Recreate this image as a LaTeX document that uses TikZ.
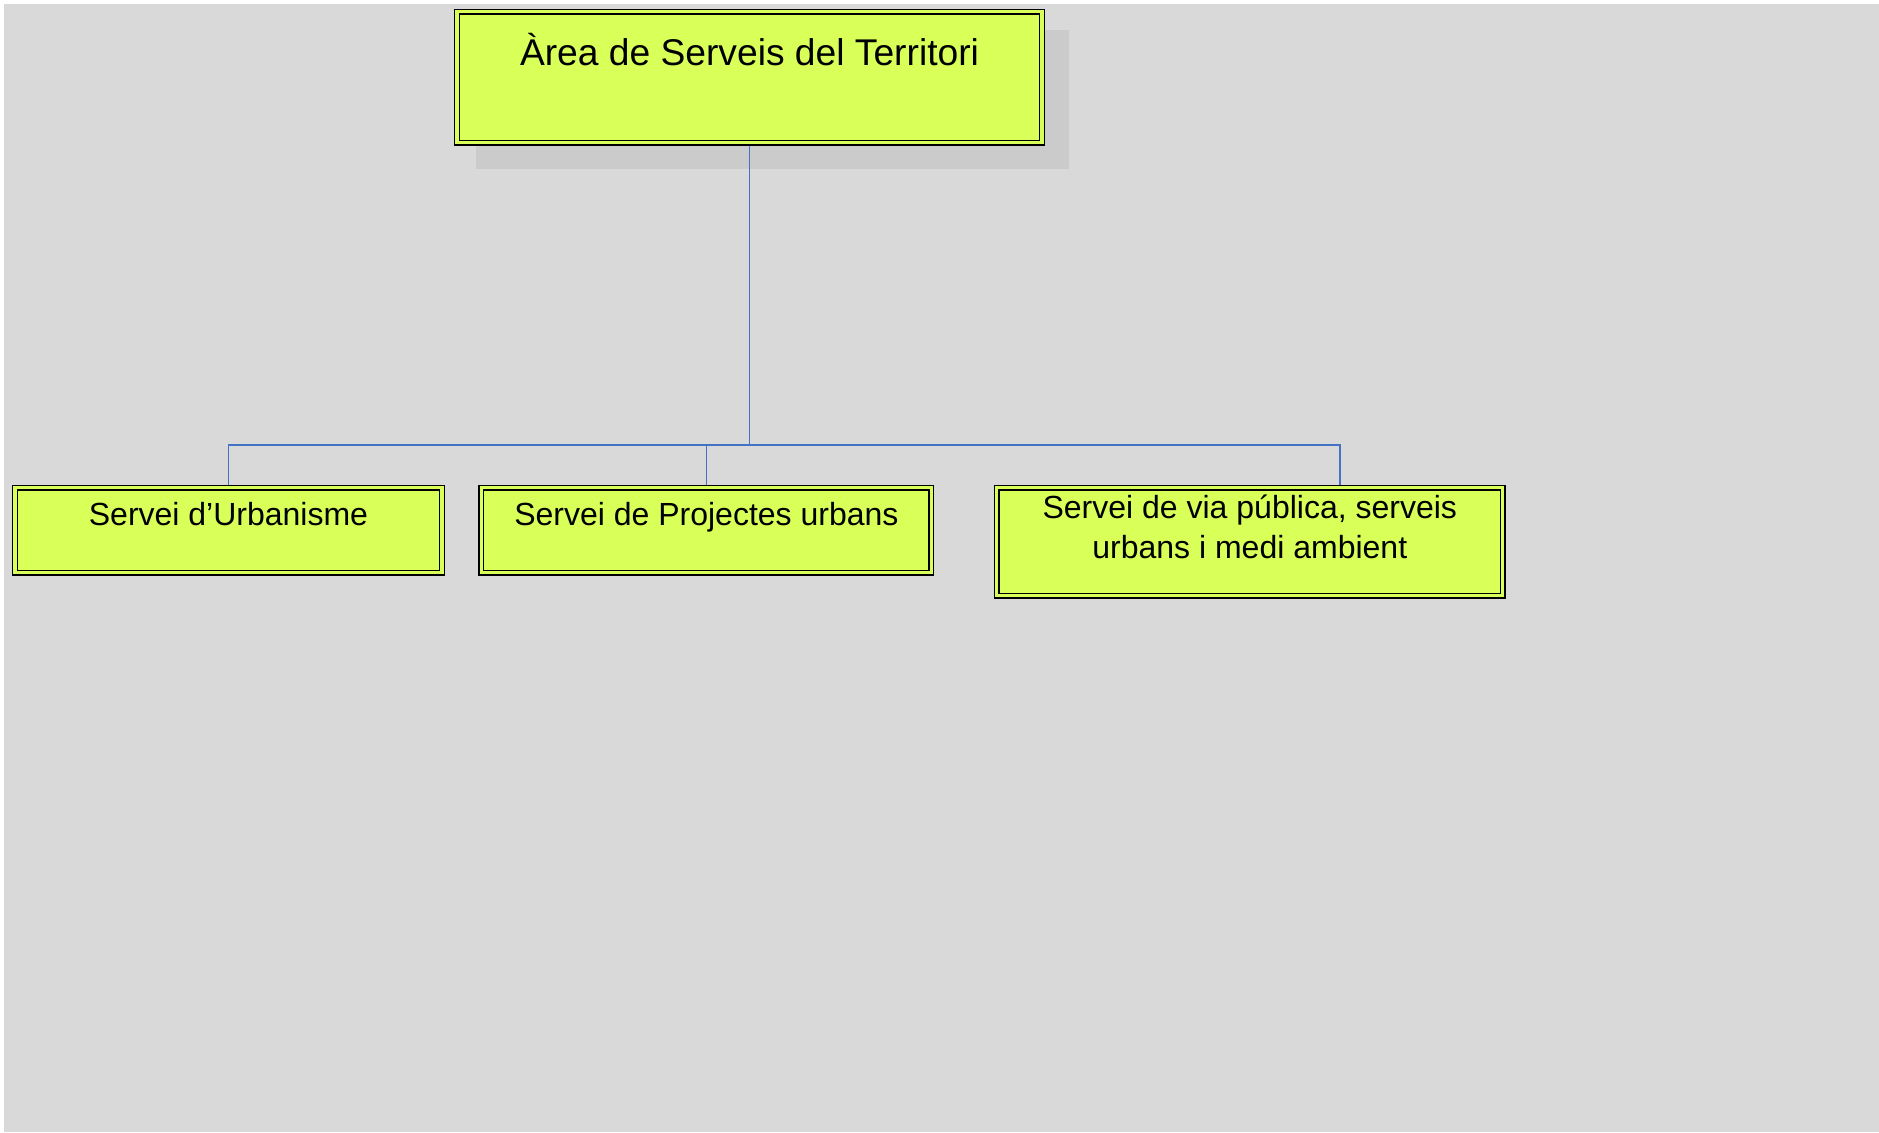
\documentclass[tikz,border=0pt]{standalone}
\usepackage{fontspec}
\setmainfont{Liberation Sans}
\usetikzlibrary{
  positioning,
  backgrounds
}
\definecolor{panelgray}{HTML}{D9D9D9}
\definecolor{shadowgray}{HTML}{CBCBCB}
\definecolor{unitfill}{HTML}{D9FF59}
\definecolor{linkblue}{HTML}{4472C4}
\tikzset{
  unit/.style={draw=black, line width=0.7pt, double=unitfill, double distance=1.6pt,
    fill=unitfill, inner sep=0pt, align=center, font=\fontsize{16}{20}\selectfont},
  link/.style={draw=linkblue, line width=0.9pt}
}

\begin{document}
\begin{tikzpicture}[x=0.5pt, y=-0.5pt]
    \useasboundingbox (0,0) rectangle (1879,1132);
    \node[unit, anchor=north, minimum width=292.5pt, text height=27pt, text depth=38.5pt,
      font=\fontsize{18.6}{22}\selectfont] (area) at (749.5,11) {Àrea de Serveis del Territori};
    \node[unit, anchor=north, minimum width=213.5pt, text height=19pt, text depth=23.5pt] (urb) at (228.5,487) {Servei d’Urbanisme};
    \node[unit, right=19pt of urb, minimum width=225pt, text height=19pt, text depth=23.5pt] (proj) {Servei de Projectes urbans};
    \node[unit, anchor=north west, minimum width=253pt, text height=35.5pt, text depth=18.5pt] (via) at ([xshift=32pt]proj.north east) {Servei de via pública, serveis\\urbans i medi ambient};
    \coordinate (hub) at (750,445);
    \coordinate (viadrop) at (1340,445);
    \begin{pgfonlayer}{background}
      \fill[panelgray] (4,4) rectangle (1879,1132);
      \fill[shadowgray] ([shift={(20,19)}]area.north west) rectangle ([shift={(26,26)}]area.south east);
      \draw[link] (area.south) -- (area.south |- hub);
      \draw[link] (urb.north) |- (viadrop) -- (viadrop |- via.north);
      \draw[link] (proj.north) -- (proj.north |- hub);
    \end{pgfonlayer}
\end{tikzpicture}
\end{document}
